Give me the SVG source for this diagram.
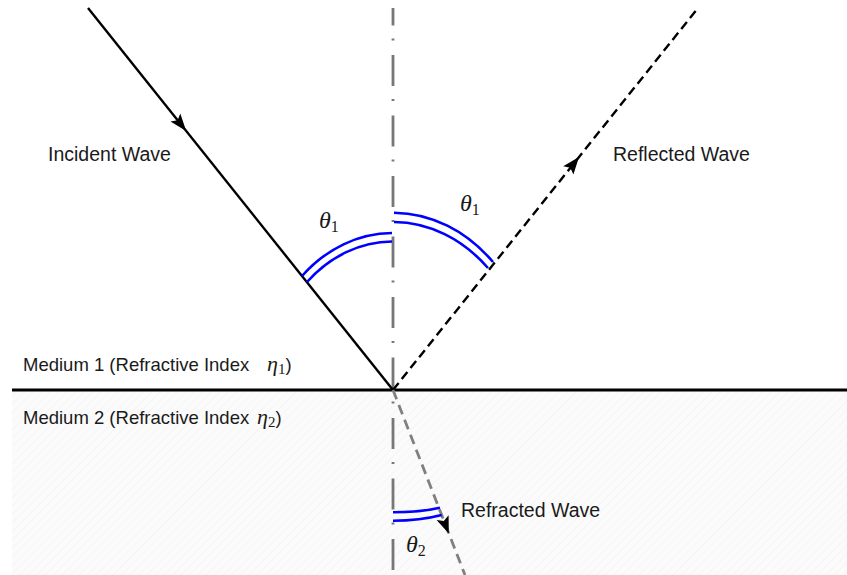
<svg xmlns="http://www.w3.org/2000/svg" width="847" height="575" viewBox="0 0 847 575">
  <style>
    .lbl { font-family: "Liberation Sans", Arial, sans-serif; font-size: 18.5px; fill: #1a1a1a; }
    .wave { font-size: 19.5px; }
    .math { font-family: "Liberation Serif", "DejaVu Serif", serif; font-style: italic; font-size: 24px; fill: #1a1a1a; }
    .sub { font-style: normal; font-size: 16px; }
    .eta { font-family: "Liberation Serif", "DejaVu Serif", serif; font-style: italic; font-size: 22px; fill: #1a1a1a; }
    .esub { font-style: normal; font-size: 15px; }
    .arc { fill: none; stroke: #0000ff; stroke-width: 2.6; }
    .head { stroke: none; }
  </style>
  <defs>
    <pattern id="hatch" width="6" height="6" patternUnits="userSpaceOnUse" patternTransform="rotate(45)">
      <rect width="6" height="6" fill="#fbfbfb"/>
      <line x1="0" y1="0" x2="0" y2="6" stroke="#f1f1f1" stroke-width="1.2"/>
    </pattern>
  </defs>
  <rect width="847" height="575" fill="#ffffff"/>
  <g id="medium2-region">
    <rect x="12" y="391" width="835" height="184" fill="url(#hatch)"/>
  </g>

  <g id="connectors">
    <g id="normal">
      <path d="M393,8 V575" stroke="#777777" stroke-width="2.8" fill="none" stroke-dasharray="31 13 2 14.5" stroke-dashoffset="13.5"/>
    </g>
    <g id="interface">
      <path d="M12,390 H847" stroke="#000" stroke-width="2.8" fill="none"/>
    </g>
    <g id="incident">
      <path d="M88,8 L393,390" stroke="#000" stroke-width="2.4" fill="none"/>
      <polygon class="head" fill="#000" points="186.2,131 180.3,113.5 177.6,120.2 170.5,121.6"/>
    </g>
    <g id="reflected">
      <path d="M393,390 L698,8" stroke="#000" stroke-width="2.4" fill="none" stroke-dasharray="9 5"/>
      <polygon class="head" fill="#000" points="579,157 573.4,174.5 570.3,167.8 563.2,166.2"/>
    </g>
    <g id="refracted">
      <path d="M393,390 L465,575" stroke="#808080" stroke-width="2.8" fill="none" stroke-dasharray="10 6"/>
      <polygon class="head" fill="#000" points="448.8,533.5 448.6,515.3 443.8,521 436.6,520"/>
    </g>
  </g>

  <g id="angle-incident">
    <path class="arc" d="M302,276 A132 157 0 0 1 392,233"/>
    <path class="arc" d="M307,282 A125 148.5 0 0 1 392,241.5"/>
    <text class="math" x="319" y="228">θ<tspan class="sub" dy="4">1</tspan></text>
  </g>
  <g id="angle-reflected">
    <path class="arc" d="M394,212.7 A144.5 177.3 0 0 1 493,262"/>
    <path class="arc" d="M394,222 A138 168 0 0 1 488,268"/>
    <text class="math" x="460" y="211">θ<tspan class="sub" dy="4">1</tspan></text>
  </g>
  <g id="angle-refracted">
    <path class="arc" d="M393,512.3 Q420,512.3 440,507.7"/>
    <path class="arc" d="M393,520.7 Q420,520.7 441.7,515"/>
    <text class="math" x="406" y="552">θ<tspan class="sub" dy="4">2</tspan></text>
  </g>

  <g id="labels">
    <text id="incident-label" class="lbl wave" x="48" y="160.5">Incident Wave</text>
    <text id="reflected-label" class="lbl wave" x="613" y="160.5">Reflected Wave</text>
    <text id="refracted-label" class="lbl wave" x="461" y="517">Refracted Wave</text>
    <text id="medium1-label" class="lbl" x="23" y="371">Medium 1 (Refractive Index <tspan class="eta" x="267">η<tspan class="esub" dy="3">1</tspan></tspan><tspan dy="-3">)</tspan></text>
    <text id="medium2-label" class="lbl" x="23" y="424">Medium 2 (Refractive Index <tspan class="eta" x="257">η<tspan class="esub" dy="3">2</tspan></tspan><tspan dy="-3">)</tspan></text>
  </g>
</svg>
